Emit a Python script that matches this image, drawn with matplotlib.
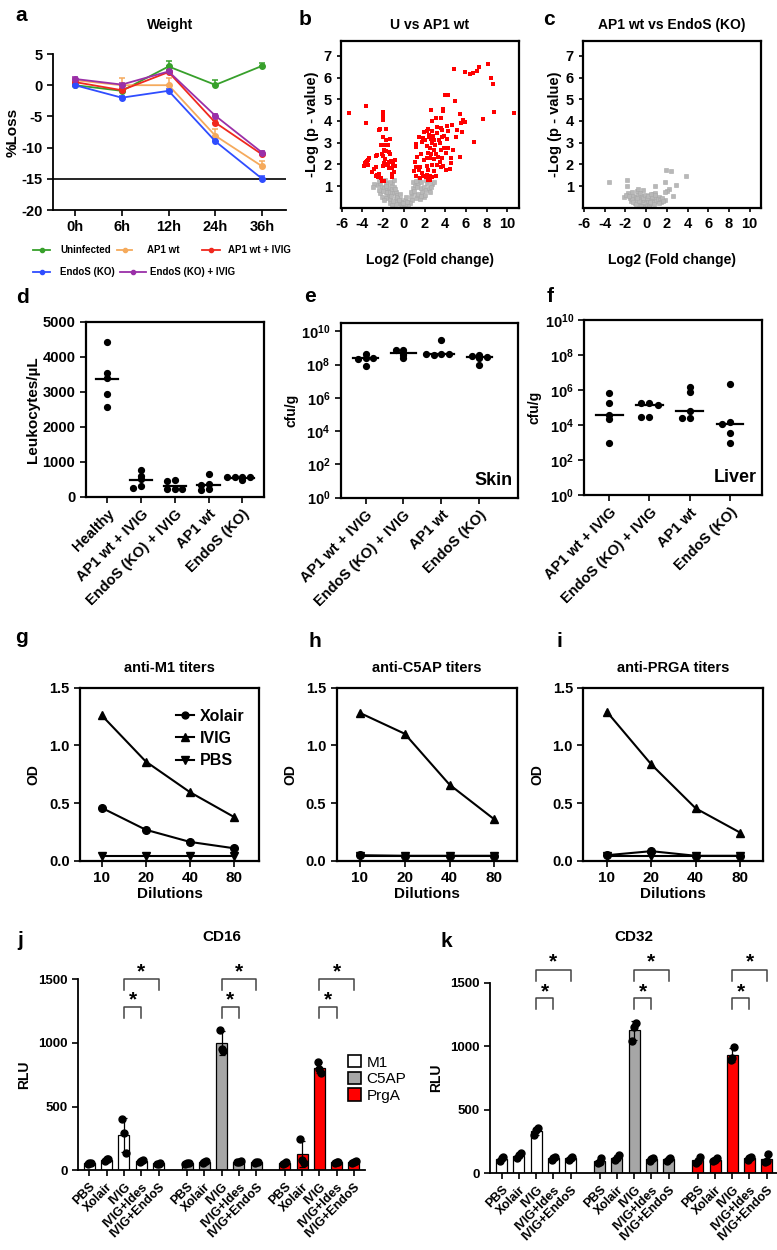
import numpy as np
import matplotlib
matplotlib.use('Agg')
import matplotlib.pyplot as plt
from matplotlib.lines import Line2D
from matplotlib.patches import Patch
from matplotlib.ticker import FixedLocator, FixedFormatter

plt.rcParams['font.family'] = ['Liberation Sans', 'DejaVu Sans']
plt.rcParams['font.weight'] = 'bold'
plt.rcParams['axes.labelweight'] = 'bold'
plt.rcParams['axes.unicode_minus'] = False
plt.rcParams['mathtext.fontset'] = 'custom'
plt.rcParams['mathtext.rm'] = 'Liberation Sans:bold'
plt.rcParams['mathtext.it'] = 'Liberation Sans:bold'
plt.rcParams['mathtext.bf'] = 'Liberation Sans:bold'
NARROW = ['Liberation Sans Narrow', 'Liberation Sans', 'DejaVu Sans']

# ---------------- data ----------------
# a: weight loss
timepoints = ['0h', '6h', '12h', '24h', '36h']
w_uninf = [0.0, -0.9, 3.0, 0.05, 3.1]
w_uninf_err = [0.2, 0.3, 0.8, 0.8, 0.5]
w_ap1 = [0.8, 0.0, 0.0, -8.1, -13.0]
w_ap1_err = [0.3, 1.1, 1.2, 1.1, 0.9]
w_ap1_ivig = [0.5, -0.8, 2.1, -6.0, -11.1]
w_ap1_ivig_err = [0.3, 0.3, 0.4, 0.4, 0.4]
w_endos = [0.0, -2.0, -0.9, -9.0, -15.0]
w_endos_err = [0.2, 0.3, 0.3, 0.3, 0.4]
w_endos_ivig = [1.0, 0.1, 2.2, -4.9, -10.8]
w_endos_ivig_err = [0.3, 0.3, 0.3, 0.3, 0.3]

# b: U vs AP1 wt volcano (log2 FC, -log p)
b_sig_fc = [-5.26, -3.64, -3.64, -3.8, -3.72, -3.65, -3.58, -3.5, -3.75, -3.85, -3.4, -3.5,
            -3.1, -2.7, -2.62, -2.4, -2.23, -2.13, -1.9, -2.0, -2.0, -1.97, -1.97, -2.35, -1.68,
            -2.0, -1.68, -1.3, -2.2, -1.81, -1.49, -1.9, -1.68, -1.39, -2.55, -2.07, -1.97, -1.33,
            -1.81, -1.9, -1.65, -1.5, -1.4, -1.25, -1.1, -1.0, -0.9, -1.4, -1.13, -0.87, -1.16,
            -0.94, -1.97, -1.13, -2.84, -2.68, -2.5, -2.42, -2.58, -2.68,
            1.13, 1.22, 1.04, 1.45, 1.78, 1.88, 2.0, 1.94, 2.2, 2.33, 2.42, 1.22, 1.45, 1.61, 0.97,
            1.77, 1.94, 2.2, 1.68, 2.33, 1.29, 1.87, 2.1, 2.33, 2.42, 1.61, 1.13, 2.52,
            4.88, 5.9, 6.43, 6.72, 7.04, 7.23, 8.1, 8.39, 8.62, 8.75, 10.6, 7.68, 6.81, 3.94, 4.23,
            4.97, 2.58, 3.78, 3.78, 5.39, 5.75, 5.9, 5.52, 5.13, 5.58, 5.07, 5.46, 2.75, 3.07, 3.55,
            4.2, 4.62, 3.16, 3.55, 3.72, 3.23, 3.72, 3.91, 4.13, 4.23, 2.68, 2.81, 2.42, 2.58, 3.39,
            2.9, 2.68, 3.0, 3.45, 3.88, 4.1, 4.3, 4.78, 2.26, 2.49, 2.9, 3.62, 4.1, 2.58, 3.1, 3.3,
            2.49, 2.9, 3.68, 3.52, 4.52, 4.52, 2.2, 2.75, 3.23, 3.55, 3.78, 4.42, 4.04, 2.36, 2.9,
            2.26, 2.68, 3.07, 2.49]
b_sig_p = [4.38, 4.70, 3.89, 1.95, 2.05, 2.1, 2.15, 2.2, 2.0, 1.9, 2.27, 1.99,
           1.65, 1.89, 1.5, 1.57, 1.38, 1.23, 1.23, 4.42, 4.32, 4.24, 4.04, 3.61, 3.61,
           3.28, 3.13, 3.16, 2.89, 2.89, 2.89, 2.67, 2.63, 2.58, 2.44, 2.49, 2.38, 2.49,
           2.24, 2.05, 1.98, 2.0, 2.1, 2.15, 2.1, 2.0, 2.2, 1.85, 1.85, 1.92, 1.56,
           1.64, 1.92, 1.41, 1.77, 1.46, 1.43, 3.58, 2.43, 2.38,
           2.78, 2.94, 2.12, 3.27, 3.04, 3.2, 3.12, 3.5, 3.55, 3.61, 3.33, 1.89, 1.74, 1.89, 1.67,
           1.62, 2.18, 2.3, 2.47, 2.5, 2.33, 1.47, 1.41, 1.3, 1.33, 1.38, 1.47, 1.47,
           6.41, 6.24, 6.15, 6.22, 6.31, 6.47, 6.62, 5.96, 5.7, 4.39, 4.38, 4.09, 3.03, 5.19, 5.18,
           4.93, 4.5, 4.56, 4.44, 4.32, 4.04, 3.93, 3.89, 3.58, 3.47, 3.24, 2.35, 4.0, 4.12, 4.15,
           3.77, 3.81, 3.7, 3.66, 3.58, 3.43, 3.24, 3.3, 3.17, 3.55, 3.55, 3.3, 3.27, 3.15, 3.12,
           3.12, 2.97, 2.89, 2.97, 2.75, 2.75, 2.73, 2.64, 2.84, 2.76, 2.64, 2.64, 2.52, 2.49, 2.47, 2.36,
           2.3, 2.23, 2.3, 2.1, 2.3, 2.07, 1.94, 1.97, 1.97, 1.86, 1.91, 1.8, 1.73, 1.73, 1.7,
           1.5, 1.42, 1.47, 1.27]
b_ns_fc = [-2.52, -2.26, -2.1, -1.93, -1.77, -1.61, -1.45, -1.29, -1.13, -0.97, -1.61, -1.45,
           -1.77, -1.29, -0.8, -0.64, -0.48, -0.38, -0.8, -0.32, -0.16, 0.0, 0.32, 0.49, 0.65,
           0.81, 0.91, 1.04, 1.23, 1.36, 1.62, 1.78, 1.94, 2.1, 2.26, 2.42, 2.52, 1.94, 1.55, 1.13,
           0.81, 0.58, 1.29, -2.26, -2.1, -1.93, -1.13, -0.97, -1.29, -1.55, -0.97, -0.8, -0.64,
           -0.16, 0.16, 0.25, 0.71, -2.36, -1.77, -1.35, -1.13, -0.64, -0.38, 1.46, 1.68, 2.1, 2.33,
           -2.9, -3.0, 2.7, 2.9, 2.6, 0.45, 0.1, -0.1, 0.3, -0.5, -1.0, 1.0, 1.4, 1.7, 2.0, -2.0,
           -1.7, -1.2, -0.9, -2.4, -1.8, 0.9, 1.2]
b_ns_p = [1.04, 1.16, 0.97, 0.89, 1.12, 0.85, 0.97, 0.74, 0.85, 0.66, 0.59, 0.51,
          0.43, 0.39, 0.43, 0.28, 0.2, 0.39, 0.17, 0.13, 0.05, 0.05, 0.13, 0.28, 0.51,
          0.66, 0.89, 1.04, 0.97, 1.12, 0.89, 0.74, 0.97, 0.82, 1.12, 0.89, 0.74, 0.51, 0.39, 0.43,
          0.36, 0.2, 0.59, 0.66, 0.51, 0.36, 1.12, 0.97, 1.2, 0.74, 1.28, 0.74, 0.59,
          0.28, 0.36, 0.51, 0.74, 0.82, 0.74, 0.2, 0.13, 0.51, 0.63, 1.28, 1.2, 1.28, 1.28,
          1.1, 0.95, 1.1, 1.2, 0.95, 0.1, 0.15, 0.2, 0.25, 0.35, 0.3, 0.75, 0.65, 0.55, 0.6, 0.75,
          1.0, 0.55, 0.85, 1.25, 1.3, 1.2, 1.25]

# c: AP1 wt vs EndoS (KO) volcano (nothing significant)
c_ns_fc = [-3.6, -1.81, -1.81, -1.75, 1.88, 2.44, 3.86, 0.89, 1.86, 2.87, 2.2, 2.0, 1.8, 2.6, 1.8,
           -2.14, -1.9, -1.4, -0.9, -0.76, -0.26, 0.4, 0.63, 0.89, 1.2,
           -1.6, -1.5, -1.3, -1.2, -1.1, -1.0, -0.9, -0.8, -0.7, -0.6, -0.5, -0.4, -0.3, -0.2, -0.1,
           0.0, 0.1, 0.2, 0.3, 0.4, 0.5, 0.6, 0.7, 0.8, 0.9, 1.0, 1.1, 1.3, 1.4, 1.5, -1.4, -1.25,
           -0.95, -0.55, -0.35, -0.15, 0.05, 0.15, 0.35, 0.55, 0.75, 1.2, -0.65, -0.45, 0.25, 0.45,
           -1.7, 1.65, -0.85, 0.85]
c_ns_p = [1.17, 1.28, 0.99, 0.68, 1.74, 1.68, 1.47, 1.01, 1.17, 1.05, 0.85, 0.77, 0.72, 0.52, 0.36,
          0.5, 0.58, 0.73, 0.77, 0.84, 0.8, 0.6, 0.64, 0.67, 0.5,
          0.45, 0.3, 0.55, 0.35, 0.2, 0.5, 0.3, 0.6, 0.15, 0.4, 0.25, 0.55, 0.1, 0.35, 0.05,
          0.2, 0.08, 0.3, 0.12, 0.4, 0.2, 0.35, 0.5, 0.25, 0.45, 0.3, 0.4, 0.35, 0.25, 0.45, 0.4, 0.25,
          0.15, 0.7, 0.45, 0.6, 0.45, 0.55, 0.25, 0.5, 0.15, 0.2, 0.3, 0.1, 0.05, 0.65,
          0.55, 0.3, 0.45, 0.6]

# d: leukocytes
d_groups = ['Healthy', 'AP1 wt + IVIG', 'EndoS (KO) + IVIG', 'AP1 wt', 'EndoS (KO)']
leu_healthy = [4420, 3530, 3380, 2930, 2550]
leu_ap1_ivig = [776, 589, 495, 308, 262]
leu_endos_ivig = [470, 450, 220, 210, 215]
leu_ap1 = [640, 350, 340, 210, 200]
leu_endos = [575, 570, 565, 560, 470]

# e/f: bacterial load (cfu/g)
ef_groups = ['AP1 wt + IVIG', 'EndoS (KO) + IVIG', 'AP1 wt', 'EndoS (KO)']
skin_ap1_ivig = [4.2e8, 2.6e8, 2.3e8, 2.5e8, 7.9e7]
skin_endos_ivig = [2.6e8, 7.2e8, 7.9e8, 3.6e8, 5.0e8]
skin_ap1 = [2.9e9, 4.2e8, 4.0e8, 4.6e8, 4.4e8]
skin_endos = [3.6e8, 3.4e8, 2.9e8, 2.6e8, 9.1e7]
liver_ap1_ivig = [6.5e5, 1.9e5, 3.7e4, 2.3e4, 1.0e3]
liver_endos_ivig = [1.7e5, 1.8e5, 1.4e5, 2.8e4, 2.7e4]
liver_ap1 = [1.5e6, 7.9e5, 6.3e4, 2.6e4, 2.5e4]
liver_endos = [2.1e6, 1.4e4, 1.1e4, 3.3e3, 1.0e3]

# g/h/i: titers
dilutions = ['10', '20', '40', '80']
g_xolair = [0.46, 0.27, 0.165, 0.11]
g_ivig = [1.26, 0.86, 0.595, 0.38]
g_pbs = [0.04, 0.04, 0.04, 0.04]
h_xolair = [0.05, 0.045, 0.045, 0.045]
h_ivig = [1.28, 1.10, 0.66, 0.36]
h_pbs = [0.04, 0.04, 0.04, 0.04]
i_xolair = [0.05, 0.085, 0.045, 0.045]
i_ivig = [1.29, 0.835, 0.455, 0.245]
i_pbs = [0.04, 0.04, 0.04, 0.04]

# j/k: RLU, three replicates per condition
treatments = ['PBS', 'Xolair', 'IVIG', 'IVIG+Ides', 'IVIG+EndoS']
antigens = ['M1', 'C5AP', 'PrgA']
j_m1 = [[50, 55, 60], [75, 85, 90], [400, 296, 139], [65, 70, 80], [50, 52, 60]]
j_c5ap = [[50, 55, 60], [55, 63, 70], [1105, 950, 935], [62, 68, 74], [58, 63, 68]]
j_prga = [[48, 55, 62], [246, 80, 60], [853, 793, 767], [58, 63, 68], [55, 63, 72]]
k_m1 = [[100, 118, 130], [118, 144, 157], [301, 341, 354], [105, 118, 131], [108, 118, 128]]
k_c5ap = [[79, 92, 118], [105, 118, 144], [1043, 1154, 1185], [100, 110, 120], [100, 110, 120]]
k_prga = [[80, 100, 125], [95, 105, 118], [891, 910, 991], [105, 118, 130], [85, 100, 150]]

# ---------------- figure ----------------
W, H = 777, 1250
fig = plt.figure(figsize=(W / 100, H / 100), dpi=100)


def add_ax(x, y, w, h):
    return fig.add_axes([x / W, 1 - (y + h) / H, w / W, h / H])


def ftext(x, y, s, **kw):
    return fig.text(x / W, 1 - y / H, s, **kw)


def frame(ax, lw=1.5, open_=False):
    for s in ax.spines.values():
        s.set_linewidth(lw)
    if open_:
        ax.spines['top'].set_visible(False)
        ax.spines['right'].set_visible(False)
    ax.tick_params(direction='out', length=4, width=1.2, top=False, right=False)


def swarm(vals, center, step, thr, log=False):
    v = np.log10(vals) if log else np.asarray(vals, float)
    placed, xs = [], []
    for val in v:
        for off in [0, -step, step, -2 * step, 2 * step]:
            if all(abs(off - po) > step * 0.9 or abs(val - pv) > thr for po, pv in placed):
                break
        placed.append((off, val))
        xs.append(center + off)
    return xs


# panel letters
for s, x, y in [('a', 15, 21), ('b', 299, 25), ('c', 543, 25), ('d', 16, 303), ('e', 304, 302),
                ('f', 547, 302), ('g', 15, 643), ('h', 309, 647), ('i', 556, 647), ('j', 17, 946),
                ('k', 440, 947)]:
    ftext(x, y, s, fontsize=15, fontweight='bold', va='baseline', ha='left')

# ---- a ----
ax = add_ax(53, 54, 233, 156)
frame(ax, 1.3, open_=True)
a_series = [(w_uninf, w_uninf_err, '#37a02b'), (w_ap1, w_ap1_err, '#f5aa5c'),
            (w_ap1_ivig, w_ap1_ivig_err, '#f0281e'), (w_endos, w_endos_err, '#2f4dff'),
            (w_endos_ivig, w_endos_ivig_err, '#9a2fa8')]
xa = np.arange(len(timepoints))
for vals, err, col in a_series:
    ax.errorbar(xa, vals, yerr=[np.zeros(len(err)), err], color=col, marker='o', ms=4,
                lw=1.3, capsize=2.5, elinewidth=1.1, capthick=1.1)
ax.axhline(-15, color='black', lw=1.2)
ax.set_xlim(-0.47, 4.51)
ax.set_ylim(-20, 5)
ax.set_yticks([5, 0, -5, -10, -15, -20])
ax.set_xticks(xa)
ax.set_xticklabels(timepoints)
ax.tick_params(labelsize=10.5)
ax.set_ylabel('%Loss', fontsize=11, labelpad=1)
ftext(170, 25, 'Weight', fontsize=10, fontweight='bold', ha='center', va='center')

# legend of a, drawn by hand
a_leg = [('Uninfected', '#37a02b', 33, 50, 60, 250), ('AP1 wt', '#f5aa5c', 117, 132, 147, 250),
         ('AP1 wt + IVIG', '#f0281e', 202, 220, 228, 250),
         ('EndoS (KO)', '#2f4dff', 33, 50, 60, 272), ('EndoS (KO) + IVIG', '#9a2fa8', 120, 146, 150, 272)]
for lab, col, x0, x1, xt, y in a_leg:
    fig.add_artist(Line2D([x0 / W, x1 / W], [1 - y / H, 1 - y / H], color=col, lw=1.3,
                          transform=fig.transFigure))
    fig.add_artist(Line2D([(x0 + x1) / 2 / W], [1 - y / H], color=col, marker='o', ms=3,
                          transform=fig.transFigure))
    ftext(xt, y, lab, fontsize=7, fontweight='bold', va='center', ha='left')

# ---- b, c ----
for (x0, title, fc_sig, p_sig, fc_ns, p_ns) in [
        (340.7, 'U vs AP1 wt', b_sig_fc, b_sig_p, b_ns_fc, b_ns_p),
        (583.0, 'AP1 wt vs EndoS (KO)', None, None, c_ns_fc, c_ns_p)]:
    ax = add_ax(x0, 40.7, 178, 167)
    frame(ax, 1.6)
    ax.plot(fc_ns, p_ns, 's', ms=2.6, color='#b8b8b8', mec='#a8a8a8', mew=0.4)
    if fc_sig is not None:
        ax.plot(fc_sig, p_sig, 's', ms=2.6, color='#ff0000', mew=0)
    ax.set_xlim(-6.1, 11.1)
    ax.set_ylim(0, 7.7)
    ax.set_xticks(range(-6, 11, 2))
    ax.set_yticks(range(1, 8))
    ax.tick_params(labelsize=10.5, length=3)
    ax.set_ylabel('-Log (p - value)', fontsize=10.5, labelpad=3)
    ax.set_xlabel('Log2 (Fold change)', fontsize=10, labelpad=16)
    ftext(x0 + 89, 25, title, fontsize=10, fontweight='bold', ha='center', va='center')

# ---- d ----
ax = add_ax(85.7, 321.7, 178.3, 175)
frame(ax, 1.6)
for i, vals in enumerate([leu_healthy, leu_ap1_ivig, leu_endos_ivig, leu_ap1, leu_endos]):
    xs = swarm(vals, i, 0.22, 70)
    ax.plot(xs, vals, 'o', color='black', ms=4.2)
    m = np.mean(vals)
    ax.plot([i - 0.33, i + 0.33], [m, m], color='black', lw=1.6)
ax.set_xlim(-0.63, 4.64)
ax.set_ylim(0, 5000)
ax.set_yticks(range(0, 5001, 1000))
ax.set_xticks(range(5))
ax.set_xticklabels(d_groups, rotation=45, ha='right', rotation_mode='anchor')
ax.tick_params(labelsize=10.5)
ax.set_ylabel('Leukocytes/\u00b5L', fontsize=11, labelpad=2)

# ---- e, f ----
log_ticks = [10.0 ** k for k in range(0, 11, 2)]
log_labels = ['$10^{%d}$' % k for k in range(0, 11, 2)]
for (x0, y0, w, h, ytop, groups, tag, xlim) in [
        (340.7, 323, 177.3, 174.7, 10 ** 10.5,
         [skin_ap1_ivig, skin_endos_ivig, skin_ap1, skin_endos], 'Skin', (-0.66, 4.03)),
        (584.3, 320, 177.4, 175, 1e10,
         [liver_ap1_ivig, liver_endos_ivig, liver_ap1, liver_endos], 'Liver', (-0.62, 3.79))]:
    ax = add_ax(x0, y0, w, h)
    frame(ax, 1.6)
    ax.set_yscale('log')
    for i, vals in enumerate(groups):
        xs = swarm(vals, i, 0.2, 0.13, log=True)
        ax.plot(xs, vals, 'o', color='black', ms=4.2)
        m = np.median(vals)
        ax.plot([i - 0.33, i + 0.33], [m, m], color='black', lw=1.6)
    ax.set_ylim(1, ytop)
    ax.set_xlim(*xlim)
    ax.yaxis.set_major_locator(FixedLocator(log_ticks))
    ax.yaxis.set_major_formatter(FixedFormatter(log_labels))
    ax.yaxis.set_minor_locator(FixedLocator([]))
    ax.set_xticks(range(4))
    ax.set_xticklabels(ef_groups, rotation=45, ha='right', rotation_mode='anchor')
    ax.tick_params(labelsize=10.5)
    ax.set_ylabel('cfu/g', fontsize=10, labelpad=2)
    ax.text(0.97, 0.05, tag, transform=ax.transAxes, fontsize=13, fontweight='bold',
            ha='right', va='bottom')

# ---- g, h, i ----
for (x0, w, title, xo, iv, pb, xlim, leg) in [
        (80, 179.3, 'anti-M1 titers', g_xolair, g_ivig, g_pbs, (-0.49, 3.57), True),
        (336.7, 180, 'anti-C5AP titers', h_xolair, h_ivig, h_pbs, (-0.52, 3.5), False),
        (583.3, 180, 'anti-PRGA titers', i_xolair, i_ivig, i_pbs, (-0.53, 3.52), False)]:
    ax = add_ax(x0, 687.5, w, 173.5)
    frame(ax, 1.6)
    xd = np.arange(len(dilutions))
    ax.plot(xd, xo, '-o', color='black', ms=5.5, lw=1.5, label='Xolair')
    ax.plot(xd, iv, '-^', color='black', ms=6, lw=1.5, label='IVIG')
    ax.plot(xd, pb, '-v', color='black', ms=6, lw=1.5, label='PBS')
    ax.set_xlim(*xlim)
    ax.set_ylim(0, 1.5)
    ax.set_yticks([0, 0.5, 1.0, 1.5])
    ax.set_yticklabels(['0.0', '0.5', '1.0', '1.5'], family=NARROW, fontsize=10.5)
    ax.set_xticks(xd)
    ax.set_xticklabels(dilutions, fontsize=11)
    ax.set_xlabel('Dilutions', fontsize=11, labelpad=1)
    ax.set_ylabel('OD', fontsize=10, family=NARROW, labelpad=6)
    ftext(x0 + w / 2, 668, title, fontsize=10.5, fontweight='bold', family=NARROW,
          ha='center', va='center')
    if leg:
        ax.legend(loc='upper right', bbox_to_anchor=(1.0, 0.96), frameon=False, handlelength=1.1,
                  handletextpad=0.4, labelspacing=0.45, markerscale=0.9,
                  prop={'family': NARROW, 'weight': 'bold', 'size': 11.5})

# ---- j, k ----
bar_cols = ['white', '#a6a6a6', '#ff0000']
for (x0, y0, w, h, title, data, goff, xlim, br) in [
        (78.3, 979.3, 286.7, 191, 'CD16', [j_m1, j_c5ap, j_prga], 5.65, (-0.64, 15.94),
         (1500, 1416, 1560, 1280, 1194, 1338)),
        (490, 982.7, 287, 190.6, 'CD32', [k_m1, k_c5ap, k_prga], 5.7, (-0.68, 16.0),
         (1599, 1515, 1665, 1376, 1290, 1429))]:
    ax = add_ax(x0, y0, w, h)
    frame(ax, 1.3, open_=True)
    ax.spines['left'].set_bounds(0, 1500)
    pos, labs = [], []
    for g, (ant, col) in enumerate(zip(data, bar_cols)):
        for t, reps in enumerate(ant):
            p = g * goff + t
            pos.append(p)
            labs.append(treatments[t])
            ax.bar(p, np.mean(reps), width=0.64, color=col, edgecolor='black', lw=0.9, zorder=2)
            ax.errorbar(p, np.mean(reps), yerr=np.std(reps, ddof=1), color='black', lw=0.9,
                        capsize=2, capthick=0.9, zorder=3)
            ax.plot(p + np.array([-0.1, 0.0, 0.1]), reps, 'o', color='black', ms=5, zorder=4)
        # significance brackets IVIG vs IVIG+Ides / IVIG+EndoS
        p2, p3, p4 = g * goff + 2, g * goff + 3, g * goff + 4
        top1, end1, star1, top2, end2, star2 = br
        ax.plot([p2, p2, p4, p4], [end1, top1, top1, end1], color='#444444', lw=1.1, clip_on=False)
        ax.plot([p2, p2, p3, p3], [end2, top2, top2, end2], color='#444444', lw=1.1, clip_on=False)
        ax.text((p2 + p4) / 2, star1, '*', fontsize=15, ha='center', va='center', clip_on=False)
        ax.text((p2 + p3) / 2, star2, '*', fontsize=15, ha='center', va='center', clip_on=False)
    ax.set_xlim(*xlim)
    ax.set_ylim(0, 1500)
    ax.set_yticks([0, 500, 1000, 1500])
    ax.set_xticks(pos)
    ax.set_xticklabels(labs, rotation=45, ha='right', rotation_mode='anchor', fontsize=9)
    ax.tick_params(axis='y', labelsize=9.5)
    ax.set_ylabel('RLU', fontsize=10, labelpad=5)
    ftext(x0 + w / 2, 937, title, fontsize=11, fontweight='bold', ha='center', va='center')

handles = [Patch(facecolor=c, edgecolor='black', lw=1.2) for c in bar_cols]
fig.legend(handles, antigens, loc='center left', bbox_to_anchor=(348 / W, 1 - 1079 / H),
           frameon=False, handlelength=0.85, handleheight=0.85, handletextpad=0.35,
           labelspacing=0.15, borderaxespad=0, borderpad=0,
           prop={'weight': 'normal', 'size': 11})

fig.savefig('out.png', dpi=100)
